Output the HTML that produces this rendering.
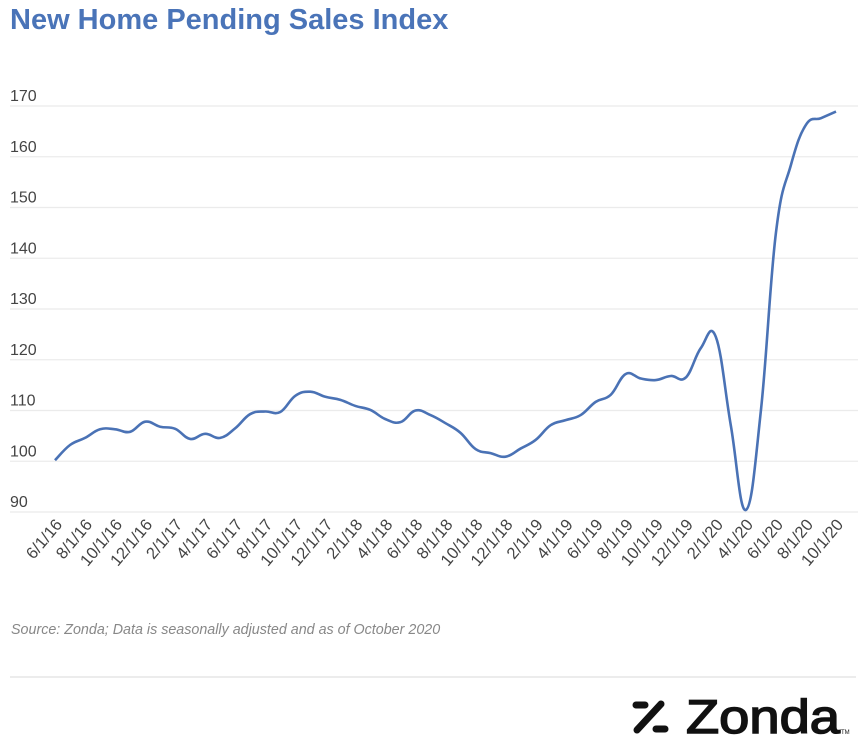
<!DOCTYPE html>
<html><head><meta charset="utf-8">
<style>
body{margin:0;background:#fff;width:868px;height:742px;overflow:hidden;font-family:"Liberation Sans",sans-serif;}
</style></head>
<body>
<svg width="868" height="742" viewBox="0 0 868 742">
<text x="10" y="29" font-size="29" font-weight="bold" fill="#4a74b8">New Home Pending Sales Index</text>
<g id="grid"></g>
<g id="xlabels"></g>
<path id="line" fill="none" stroke="#4a72b5" stroke-width="2.6" stroke-linejoin="round"/>
<text x="11" y="634" font-size="14.3" font-style="italic" fill="#888">Source: Zonda; Data is seasonally adjusted and as of October 2020</text>
<line x1="10" y1="677" x2="856" y2="677" stroke="#e6e6e6" stroke-width="1.5"/>
<g>
<g stroke="#111" stroke-width="7" stroke-linecap="round">
<line x1="636" y1="705" x2="645" y2="705"/>
<line x1="661" y1="704" x2="637" y2="730"/>
<line x1="656" y1="729" x2="665" y2="729"/>
</g>
<text x="686" y="733" font-size="47" fill="#111" stroke="#111" stroke-width="1.5" textLength="154" lengthAdjust="spacingAndGlyphs" font-family="Liberation Sans, sans-serif">Zonda</text>
<text x="841" y="734" font-size="6" fill="#111">TM</text>
</g>
</svg>
<script>
const yTicks=[90,100,110,120,130,140,150,160,170];
const values=[100.2,103.2,104.6,106.3,106.3,105.8,107.8,106.8,106.4,104.4,105.4,104.6,106.5,109.3,109.8,109.7,112.9,113.7,112.7,112.1,110.9,110.1,108.3,107.7,110.0,109.1,107.5,105.6,102.4,101.6,100.9,102.5,104.2,107.1,108.1,109.1,111.7,113.1,117.2,116.3,116.0,116.8,116.5,122.3,124.5,107.0,90.4,110.0,145.0,158.4,166.3,167.6,168.9];
const startYear=2016, startMonth=6;
const NS='http://www.w3.org/2000/svg';
function xs(i){return 55+i*(836-55)/(values.length-1);}
function ys(v){return 512-(v-90)*(512-106)/80;}
const grid=document.getElementById('grid');
yTicks.forEach(t=>{
  const l=document.createElementNS(NS,'line');
  
  
  l.setAttribute('x1',10);l.setAttribute('x2',858);l.setAttribute('y1',ys(t));l.setAttribute('y2',ys(t));
  l.setAttribute('stroke','#ebebeb');l.setAttribute('stroke-width','1.3');
  grid.appendChild(l);
  const tx=document.createElementNS(NS,'text');
  
  
  tx.setAttribute('x',10);tx.setAttribute('y',ys(t)-5);
  tx.setAttribute('font-size','16');tx.setAttribute('fill','#444');
  tx.textContent=t;grid.appendChild(tx);
});
const xl=document.getElementById('xlabels');
for(let i=0;i<values.length;i+=2){
  const m=(startMonth-1+i)%12+1, y=startYear+Math.floor((startMonth-1+i)/12);
  const tx=document.createElementNS(NS,'text');
  
  
  const x=xs(i)+8, yy=525;
  tx.setAttribute('x',x);tx.setAttribute('y',yy);
  tx.setAttribute('text-anchor','end');
  tx.setAttribute('transform','rotate(-50 '+x+' '+yy+')');
  tx.setAttribute('font-size','16.5');tx.setAttribute('fill','#444');
  tx.textContent=m+'/1/'+String(y).slice(2);
  xl.appendChild(tx);
}
const pts=values.map((v,i)=>[xs(i),ys(v)]);
let d='M'+pts[0][0]+','+pts[0][1];
for(let i=0;i<pts.length-1;i++){
  const p0=pts[i-1]||pts[i],p1=pts[i],p2=pts[i+1],p3=pts[i+2]||p2;
  const t=0.2;
  const c1=[p1[0]+(p2[0]-p0[0])*t,p1[1]+(p2[1]-p0[1])*t];
  const c2=[p2[0]-(p3[0]-p1[0])*t,p2[1]-(p3[1]-p1[1])*t];
  d+=' C'+c1+' '+c2+' '+p2;
}
document.getElementById('line').setAttribute('d',d);
</script>
</body></html>
